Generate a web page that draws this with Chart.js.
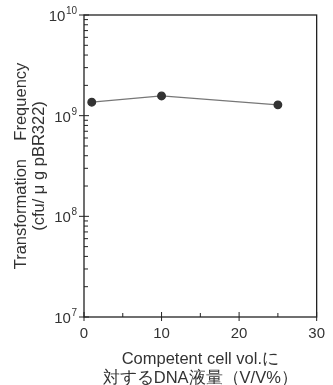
<!DOCTYPE html>
<html><head><meta charset="utf-8">
<script src="https://cdn.jsdelivr.net/npm/chart.js@4/dist/chart.umd.min.js"></script>
<style>html,body{margin:0;padding:0;background:#fff}#wrap{width:333px;height:385px}</style>
</head><body><div id="wrap"><canvas id="c"></canvas></div>
<script>
const volumePercent = [1, 10, 25];
const frequency = [1.36e9, 1.57e9, 1.28e9];
const yDecades = [1e7, 1e8, 1e9, 1e10];
const yTickBase = '10';
const yTickExponents = ['7', '8', '9', '10'];
const xTickValues = [0, 10, 20, 30];
const xMinorValues = [5, 15, 25];
const xTitle = ['Competent cell vol.に', '対するDNA液量（V/V%）'];
const yTitle = ['Transformation    Frequency', '(cfu/ μ g pBR322)'];

const ink = '#333';
const font = 'Liberation Sans, Arial, sans-serif';

const tickPlugin = {
  id: 'inwardTicks',
  afterDraw(chart) {
    const ctx = chart.ctx, xs = chart.scales.x, ys = chart.scales.y;
    const a = chart.chartArea;
    ctx.save();
    ctx.strokeStyle = '#222';
    ctx.lineWidth = 1.3;
    ctx.strokeRect(a.left, a.top, a.right - a.left, a.bottom - a.top);
    ctx.lineWidth = 1;
    ctx.beginPath();
    for (let d = 0; d < yDecades.length; d++) {
      const y = ys.getPixelForValue(yDecades[d]);
      ctx.moveTo(a.left - 5, y); ctx.lineTo(a.left + 5, y);
      if (d < yDecades.length - 1) {
        for (let m = 2; m <= 9; m++) {
          const yy = ys.getPixelForValue(m * yDecades[d]);
          ctx.moveTo(a.left, yy); ctx.lineTo(a.left + 4, yy);
        }
      }
    }
    xTickValues.forEach(v => {
      const x = xs.getPixelForValue(v);
      ctx.moveTo(x, a.bottom + 4); ctx.lineTo(x, a.bottom - 5);
    });
    xMinorValues.forEach(v => {
      const x = xs.getPixelForValue(v);
      ctx.moveTo(x, a.bottom); ctx.lineTo(x, a.bottom - 4);
    });
    ctx.stroke();
    // y tick labels with superscript exponents
    ctx.fillStyle = ink;
    ctx.textAlign = 'right';
    yDecades.forEach((v, i) => {
      const y = ys.getPixelForValue(v);
      const xr = a.left - 7;
      ctx.font = '10px ' + font;
      ctx.textBaseline = 'alphabetic';
      const w = ctx.measureText(yTickExponents[i]).width;
      ctx.fillText(yTickExponents[i], xr, y - 1);
      ctx.font = '15px ' + font;
      ctx.fillText(yTickBase, xr - w - 0.5, y + 6);
    });
    ctx.restore();
  }
};

new Chart(document.getElementById('c'), {
  type: 'line',
  data: {
    datasets: [{
      data: volumePercent.map((x, i) => ({x: x, y: frequency[i]})),
      borderColor: '#777',
      borderWidth: 1.3,
      pointRadius: 3.8,
      pointBackgroundColor: '#333',
      pointBorderColor: '#333',
      tension: 0
    }]
  },
  options: {
    responsive: true,
    maintainAspectRatio: false,
    animation: false,
    layout: {padding: {top: 15, right: 13, left: 0, bottom: 0}},
    plugins: {legend: {display: false}, tooltip: {enabled: false}},
    scales: {
      x: {
        type: 'linear', min: 0, max: 30,
        afterBuildTicks: s => { s.ticks = xTickValues.map(v => ({value: v})); },
        afterFit: s => { s.height = 68; },
        grid: {display: false, drawTicks: false},
        border: {display: false},
        ticks: {color: ink, font: {family: font, size: 15}, padding: 8, maxRotation: 0},
        title: {display: true, text: xTitle, color: ink, font: {family: font, size: 16.5, lineHeight: 1.15}, padding: {top: 0, bottom: -3}}
      },
      y: {
        type: 'logarithmic', min: 1e7, max: 1e10,
        afterBuildTicks: s => { s.ticks = yDecades.map(v => ({value: v})); },
        afterFit: s => { s.width = 84; },
        grid: {display: false, drawTicks: false},
        border: {display: false},
        ticks: {display: false},
        title: {display: true, text: yTitle, color: ink, font: {family: font, size: 16.5, lineHeight: 1.05}, padding: {top: 13, bottom: 0}}
      }
    }
  },
  plugins: [tickPlugin]
});
</script></body></html>
